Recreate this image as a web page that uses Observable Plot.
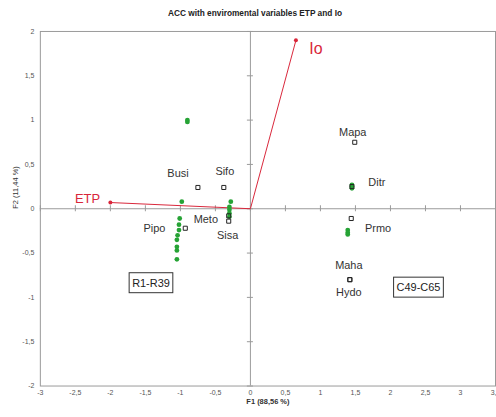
<!DOCTYPE html>
<html><head><meta charset="utf-8">
<script src="https://cdn.jsdelivr.net/npm/d3@7"></script>
<script src="https://cdn.jsdelivr.net/npm/@observablehq/plot@0.6"></script>
<style>
html,body{margin:0;padding:0;background:#fff;overflow:hidden;width:496px;height:417px}
#title{position:absolute;left:0;top:8px;width:510px;text-align:center;font:bold 8.3px "Liberation Sans",Arial,sans-serif;color:#222}
#chart{position:absolute;left:0;top:24px}
</style></head><body>
<div id="title">ACC with enviromental variables ETP and Io</div>
<div id="chart"></div>
<script>
// ---- data ----
const vectorNames = ["ETP", "Io"];
const vectorF1 = [-2.0, 0.65];
const vectorF2 = [0.07, 1.90];

const speciesNames = ["Busi", "Sifo", "Meto", "Sisa", "Pipo", "Mapa", "Ditr", "Prmo", "Maha", "Hydo"];
const speciesF1 = [-0.75, -0.38, -0.31, -0.31, -0.93, 1.49, 1.45, 1.44, 1.42, 1.42];
const speciesF2 = [0.24, 0.24, -0.08, -0.14, -0.22, 0.75, 0.25, -0.11, -0.80, -0.80];

const siteF1 = [-0.90, -0.90, -0.98, -1.01, -1.02, -1.02, -1.04, -1.05, -1.05, -1.05, -1.05,
                -0.28, -0.30, -0.30, -0.30, -0.30, 1.45, 1.45, 1.45, 1.39, 1.39, 1.39];
const siteF2 = [1.00, 0.98, 0.08, -0.11, -0.18, -0.24, -0.30, -0.35, -0.43, -0.47, -0.57,
                0.08, 0.02, -0.01, -0.05, -0.09, 0.27, 0.25, 0.23, -0.24, -0.27, -0.29];

const groupLabels = ["R1-R39", "C49-C65"];
const groupF1 = [-1.42, 2.40];
const groupF2 = [-0.84, -0.89];

const xTicks = [-3, -2.5, -2, -1.5, -1, -0.5, 0, 0.5, 1, 1.5, 2, 2.5, 3, 3.5];
const yTicks = [-2, -1.5, -1, -0.5, 0, 0.5, 1, 1.5, 2];
const xTitle = "F1 (88,56 %)";
const yTitle = "F2 (11,44 %)";

// ---- layout / style ----
const labelOffset = {Busi: [-20, -14], Sifo: [1, -16], Meto: [-23, 4], Sisa: [-1, 14], Pipo: [-31, 0],
  Mapa: [-2, -10], Ditr: [25, -4], Prmo: [27, 10], Maha: [-1, -14], Hydo: [-1, 13]};
const vectorOffset = {ETP: [-23, -4], Io: [20, 9]};
const vectorSize = {ETP: 13, Io: 16};
const fmt = d => String(d).replace(".", ",");
const red = "#d9263a", green = "#26a335", axisGrey = "#9a9a9a";

const idx = speciesNames.map((d, i) => i);
const vIdx = vectorNames.map((d, i) => i);

const plot = Plot.plot({
  width: 498, height: 393,
  marginLeft: 40, marginRight: 1, marginTop: 7, marginBottom: 30,
  x: {domain: [-3, 3.5]},
  y: {domain: [-2, 2]},
  style: {fontFamily: "'Liberation Sans', Arial, sans-serif", fontSize: "7px", color: "#555", background: "white", overflow: "visible"},
  marks: [
    Plot.frame({stroke: axisGrey}),
    Plot.axisX({ticks: xTicks, tickFormat: fmt, tickSize: 0, tickPadding: 4, label: null}),
    Plot.axisY({ticks: yTicks, tickFormat: fmt, tickSize: 0, tickPadding: 6, label: null}),
    Plot.ruleX([0], {stroke: axisGrey}),
    Plot.ruleY([0], {stroke: axisGrey}),
    Plot.ruleX(xTicks, {y1: -0.034, y2: 0.034, stroke: axisGrey}),
    Plot.ruleY(yTicks, {x1: -0.043, x2: 0.043, stroke: axisGrey}),
    Plot.text([xTitle], {frameAnchor: "bottom", dy: 18, fontWeight: "bold", fontSize: 7.5, fill: "#333"}),
    Plot.text([yTitle], {frameAnchor: "left", dx: -25, rotate: -90, fontSize: 7.5, fill: "#333"}),
    // vectors
    Plot.link(vIdx, {x1: 0, y1: 0, x2: i => vectorF1[i], y2: i => vectorF2[i], stroke: red, strokeWidth: 1}),
    Plot.dot(vIdx, {x: i => vectorF1[i], y: i => vectorF2[i], r: 2, fill: red}),
    ...vIdx.map(i => Plot.text([vectorNames[i]], {x: vectorF1[i], y: vectorF2[i], dx: vectorOffset[vectorNames[i]][0], dy: vectorOffset[vectorNames[i]][1], fill: red, fontSize: vectorSize[vectorNames[i]]})),
    // sites
    Plot.dot(siteF1.map((d, i) => i), {x: i => siteF1[i], y: i => siteF2[i], r: 2.4, fill: green}),
    // species
    Plot.dot(idx, {x: i => speciesF1[i], y: i => speciesF2[i], symbol: "square", r: 2.3, stroke: "#222", fill: "none", strokeWidth: 1}),
    ...idx.map(i => Plot.text([speciesNames[i]], {x: speciesF1[i], y: speciesF2[i], dx: labelOffset[speciesNames[i]][0], dy: labelOffset[speciesNames[i]][1], fill: "#333", fontSize: 11})),
    // group boxes
    Plot.text(groupLabels, {x: groupF1, y: groupF2, text: d => d, fill: "#222", fontSize: 11})
  ]
});
document.getElementById("chart").append(plot);
plot.querySelectorAll("text").forEach(t => {
  if (!groupLabels.includes(t.textContent)) return;
  const b = t.getBBox();
  const r = document.createElementNS("http://www.w3.org/2000/svg", "rect");
  r.setAttribute("x", b.x - 3);
  r.setAttribute("y", b.y - 4);
  r.setAttribute("width", b.width + 6);
  r.setAttribute("height", b.height + 8);
  r.setAttribute("fill", "white");
  r.setAttribute("stroke", "#333");
  const tr = t.getAttribute("transform");
  if (tr) r.setAttribute("transform", tr);
  t.parentNode.insertBefore(r, t);
});
</script>
</body></html>
